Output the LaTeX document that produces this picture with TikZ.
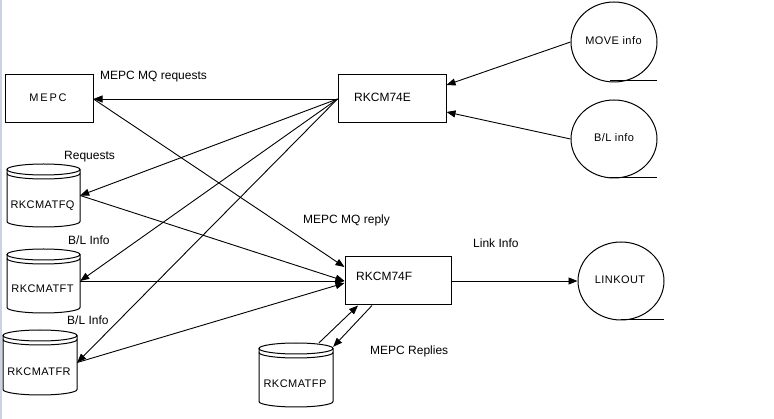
\documentclass[tikz,border=0pt]{standalone}
\usepackage{fontspec}
\setmainfont{Liberation Sans}
\newfontfamily\lblfont[LetterSpace=4]{Liberation Sans}
\usetikzlibrary{arrows.meta,shapes.geometric,calc}
\definecolor{edgeblue}{RGB}{200,212,228}
\tikzset{
  conn/.style={line width=0.9pt,-{Triangle[length=9pt,width=7pt]}},
  boxnode/.style={draw,line width=1pt,rectangle,inner sep=0pt},
  cylnode/.style={rectangle,inner sep=0pt,draw=none},
  termnode/.style={draw,line width=1pt,ellipse,inner sep=0pt},
  lbl/.style={inner sep=0pt,font=\fontsize{11}{13}\lblfont},
  txt/.style={inner sep=0pt,anchor=base west,font=\fontsize{12}{14}\selectfont},
}
\newcommand\cylout[4]{%
  \pgfmathsetmacro\cylcx{(#1+#2)/2}%
  \pgfmathsetmacro\cylrx{(#2-#1)/2}%
  \draw[line width=1pt] (\cylcx,#3+5.5) ellipse [x radius=\cylrx pt, y radius=5.5pt];
  \draw[line width=1pt] (#1,#3+9.5) arc[start angle=180,end angle=360,x radius=\cylrx pt,y radius=5.5pt];
  \draw[line width=1pt] (#1,#3+5.5) -- (#1,#4-5.5) arc[start angle=180,end angle=360,x radius=\cylrx pt,y radius=5.5pt] -- (#2,#3+5.5);
}
\begin{document}
\begin{tikzpicture}[x=1pt,y=-1pt]
\useasboundingbox (0,0) rectangle (774,419);
\fill[white] (0,0) rectangle (774,419);
\fill[edgeblue] (0,0) rectangle (2,419);

% boxes
\node[boxnode,minimum width=88pt,minimum height=48pt] (mepc) at (49,99) {};
\node[lbl,anchor=base] (mepct) at (48,102) {M\,E\,P\,C};
\node[boxnode,minimum width=108pt,minimum height=48pt] (e) at (392,99) {};
\node[txt] (et) at (354,102) {RKCM74E};
\node[boxnode,minimum width=106pt,minimum height=48pt] (f) at (398,281) {};
\node[txt] (ft) at (356,281) {RKCM74F};

% cylinders
\node[cylnode,minimum width=73pt,minimum height=63pt] (q) at (43.5,195.5) {};
\cylout{7}{80}{164}{227}
\node[lbl,anchor=base] (qt) at (42.5,209) {RKCMATFQ};
\node[cylnode,minimum width=73pt,minimum height=64pt] (t) at (43.5,281) {};
\cylout{7}{80}{249}{313}
\node[lbl,anchor=base] (tt) at (42.5,293) {RKCMATFT};
\node[cylnode,minimum width=74pt,minimum height=65pt] (r) at (40,362.5) {};
\cylout{3}{77}{330}{395}
\node[lbl,anchor=base] (rt) at (39,376) {RKCMATFR};
\node[cylnode,minimum width=74pt,minimum height=64pt] (p) at (296,375) {};
\cylout{259}{333}{343}{407}
\node[lbl,anchor=base] (pt) at (295,388) {RKCMATFP};

% terminators
\node[termnode,minimum width=86pt,minimum height=80pt] (mv) at (614,42) {};
\node[lbl,anchor=base] (mvt) at (613.5,45) {MOVE info};
\draw[line width=1pt] (610,81) -- (657,81);
\node[termnode,minimum width=86pt,minimum height=78pt] (bl) at (614,139) {};
\node[lbl,anchor=base] (blt) at (614,142) {B/L info};
\draw[line width=1pt] (610,178) -- (657,178);
\node[termnode,minimum width=86pt,minimum height=78pt] (lk) at (621,281) {};
\node[lbl,anchor=base] (lkt) at (620,284) {LINKOUT};
\draw[line width=1pt] (621,320) -- (664,320);

% labels
\node[txt] (l1) at (100,80) {MEPC MQ requests};
\node[txt] (l2) at (64,160) {Requests};
\node[txt] (l3) at (68,245) {B/L Info};
\node[txt] (l4) at (67,325) {B/L Info};
\node[txt] (l5) at (303,224) {MEPC MQ reply};
\node[txt] (l6) at (473,248) {Link Info};
\node[txt] (l7) at (370,355) {MEPC Replies};

% connectors
\draw[conn] (e.west) -- (mepc.east);
\draw[conn] (e.west) -- (q.east);
\draw[conn] (e.west) -- (t.east);
\draw[conn] (e.west) -- (r.east);
\draw[conn] (mepc.east) -- ([yshift=14pt]f.west);
\draw[conn] (q.east) -- (f.west);
\draw[conn] (t.east) -- (f.west);
\draw[conn] (r.east) -- ([yshift=-2pt]f.west);
\draw[conn] (f.east) -- (lk.west);
\draw[conn] (mv.west) -- ([yshift=14pt]e.east);
\draw[conn] (bl.west) -- ([yshift=-13pt]e.east);
\draw[conn] ([xshift=23pt]p.north) -- ([xshift=-40pt]f.south);
\draw[conn] ([xshift=-26pt]f.south) -- ([yshift=-4pt]p.north east);
\end{tikzpicture}
\end{document}
